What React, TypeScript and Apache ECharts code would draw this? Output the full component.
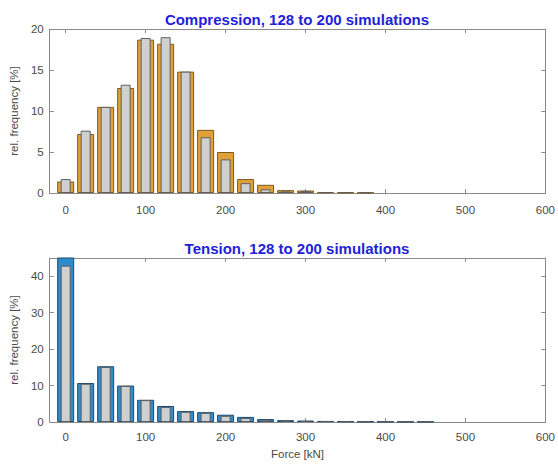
import React, { useEffect, useRef } from "react";
import * as echarts from "echarts";

const forceBins = [0, 25, 50, 75, 100, 125, 150, 175, 200, 225, 250, 275, 300, 325, 350, 375, 400, 425, 450, 475];
const compression128 = [1.4, 7.2, 10.5, 12.8, 18.7, 18.2, 14.8, 7.7, 5.0, 1.7, 1.0, 0.35, 0.3, 0.1, 0.08, 0.06, null, null, null, null];
const compression200 = [1.7, 7.6, 10.5, 13.2, 18.9, 19.0, 14.8, 6.8, 4.1, 1.2, 0.45, 0.2, 0.25, 0.1, 0.08, 0.06, null, null, null, null];
const tension128 = [47, 10.7, 15.3, 10.0, 6.1, 4.4, 3.0, 2.7, 2.0, 1.4, 0.8, 0.5, 0.4, 0.3, 0.2, 0.15, 0.12, 0.1, 0.08, null];
const tension200 = [42.9, 10.5, 15.1, 9.9, 6.0, 4.1, 2.8, 2.5, 1.7, 1.1, 0.6, 0.4, 0.3, 0.2, 0.15, 0.12, 0.1, 0.08, 0.06, null];
const compressionTitle = "Compression, 128 to 200 simulations";
const tensionTitle = "Tension, 128 to 200 simulations";
const yAxisName = "rel. frequency [%]";
const xAxisName = "Force [kN]";

const FONT = "'Liberation Sans', Arial, sans-serif";
const AXIS_COLOR = "#8a8a8a";
const LABEL_COLOR = "#4a4a4a";

const pairs = (vals: (number | null)[]) =>
  forceBins.map((x, i) => (vals[i] == null ? [x, "-"] : [x, vals[i]]));

export default function App() {
  const ref = useRef<HTMLDivElement>(null);
  useEffect(() => {
    document.body.style.margin = "0";
    if (!ref.current) return;
    const chart = echarts.init(ref.current, null, { renderer: "svg" });

    const lineStyle = { color: AXIS_COLOR, width: 1 };
    const xMain = (grid: number, withName: boolean, margin: number) => ({
      gridIndex: grid,
      type: "value",
      min: -20,
      max: 600,
      position: "bottom",
      axisLine: { show: true, onZero: false, lineStyle },
      axisTick: { show: true, inside: true, length: 4, lineStyle },
      splitLine: { show: false },
      axisLabel: {
        color: LABEL_COLOR,
        fontFamily: FONT,
        fontSize: 11.5,
        margin,
        formatter: (v: number) => (v < 0 ? "" : String(v)),
      },
      name: withName ? xAxisName : "",
      nameLocation: "middle",
      nameGap: 26,
      nameTextStyle: { color: LABEL_COLOR, fontFamily: FONT, fontSize: 11.5 },
    });
    const xTop = (grid: number) => ({
      gridIndex: grid,
      type: "value",
      min: -20,
      max: 600,
      position: "top",
      axisLine: { show: true, onZero: false, lineStyle },
      axisTick: { show: true, inside: true, length: 4, lineStyle },
      splitLine: { show: false },
      axisLabel: { show: false },
    });
    const yMain = (grid: number, max: number, interval: number) => ({
      gridIndex: grid,
      type: "value",
      min: 0,
      max,
      interval,
      position: "left",
      axisLine: { show: true, onZero: false, lineStyle },
      axisTick: { show: true, inside: true, length: 4, lineStyle },
      splitLine: { show: false },
      axisLabel: {
        color: LABEL_COLOR,
        fontFamily: FONT,
        fontSize: 11.5,
        margin: 6,
        formatter: (v: number) => (v % interval !== 0 ? "" : String(v)),
      },
      name: yAxisName,
      nameLocation: "middle",
      nameGap: 24,
      nameTextStyle: { color: LABEL_COLOR, fontFamily: FONT, fontSize: 11.5 },
    });
    const yRight = (grid: number, max: number, interval: number) => ({
      gridIndex: grid,
      type: "value",
      min: 0,
      max,
      interval,
      position: "right",
      axisLine: { show: true, onZero: false, lineStyle },
      axisTick: { show: true, inside: true, length: 4, lineStyle },
      splitLine: { show: false },
      axisLabel: { show: false },
    });

    const titleFont = `bold 15px ${FONT}`;
    const option = {
      animation: false,
      backgroundColor: "#ffffff",
      graphic: [
        {
          type: "text",
          x: 297,
          y: 19,
          style: { text: compressionTitle, font: titleFont, fill: "#2222d8", textAlign: "center", textVerticalAlign: "middle" },
        },
        {
          type: "text",
          x: 297,
          y: 248,
          style: { text: tensionTitle, font: titleFont, fill: "#2222d8", textAlign: "center", textVerticalAlign: "middle" },
        },
      ],
      grid: [
        { left: 47, top: 29, width: 499, height: 164 },
        { left: 47, top: 258, width: 499, height: 164 },
      ],
      xAxis: [xMain(0, false, 11), xTop(0), xMain(1, true, 9), xTop(1)],
      yAxis: [yMain(0, 20, 5), yRight(0, 20, 5), yMain(1, 45, 10), yRight(1, 45, 10)],
      series: [
        {
          name: "Compression 128",
          type: "bar",
          xAxisIndex: 0,
          yAxisIndex: 0,
          barWidth: 17,
          data: pairs(compression128),
          itemStyle: { color: "#e2a138", borderColor: "#7a5a22", borderWidth: 1 },
        },
        {
          name: "Compression 200",
          type: "bar",
          xAxisIndex: 1,
          yAxisIndex: 0,
          barWidth: 10,
          data: pairs(compression200),
          itemStyle: { color: "#d0d0d0", borderColor: "#5e5e5e", borderWidth: 1 },
        },
        {
          name: "Tension 128",
          type: "bar",
          xAxisIndex: 2,
          yAxisIndex: 2,
          barWidth: 17,
          data: pairs(tension128),
          itemStyle: { color: "#2f8ccc", borderColor: "#1c4a72", borderWidth: 1 },
        },
        {
          name: "Tension 200",
          type: "bar",
          xAxisIndex: 3,
          yAxisIndex: 2,
          barWidth: 10,
          data: pairs(tension200),
          itemStyle: { color: "#d0d0d0", borderColor: "#5e5e5e", borderWidth: 1 },
        },
      ],
    };
    chart.setOption(option as any);
    return () => chart.dispose();
  }, []);
  return <div ref={ref} style={{ width: 558, height: 464 }} />;
}
